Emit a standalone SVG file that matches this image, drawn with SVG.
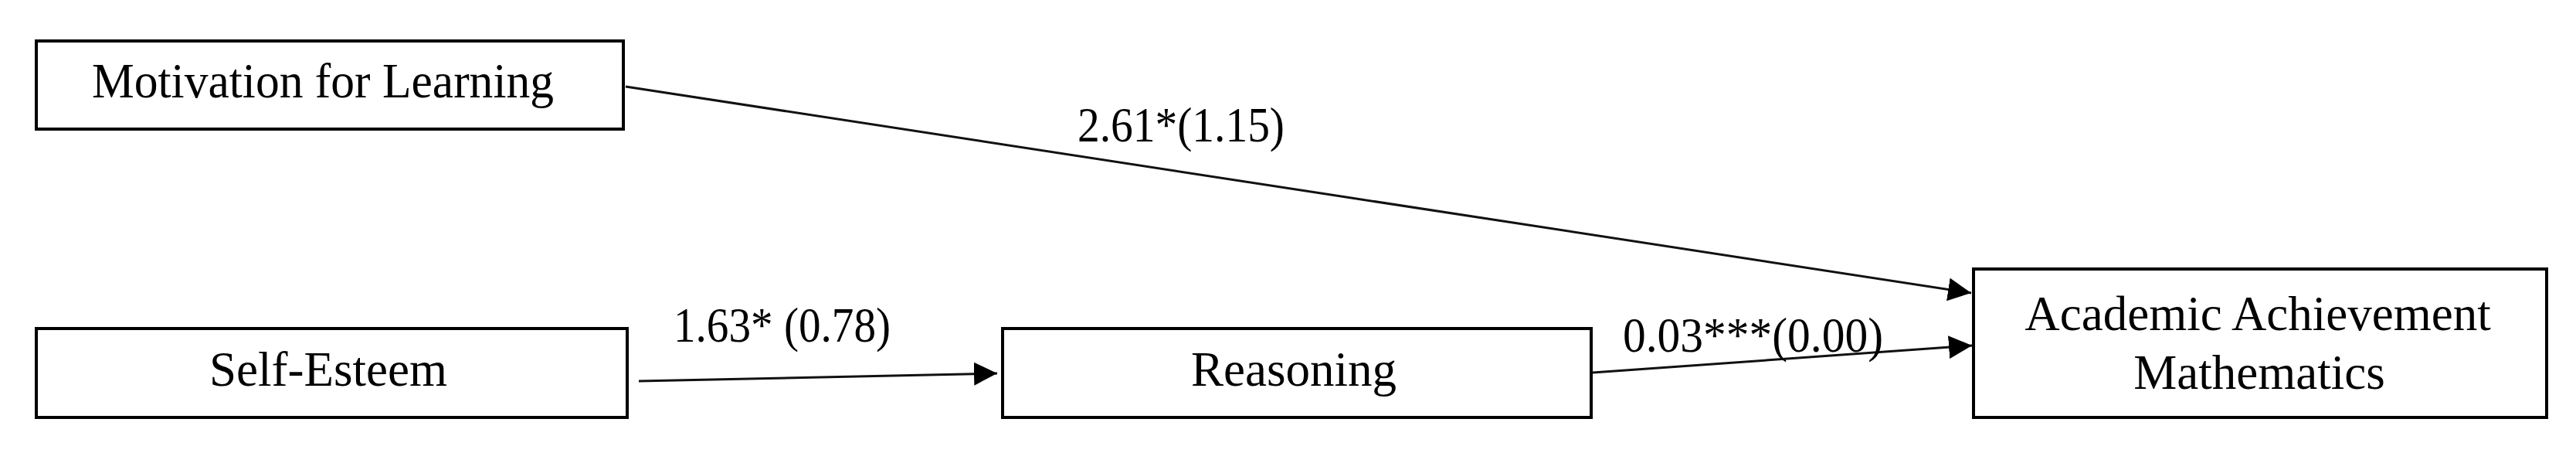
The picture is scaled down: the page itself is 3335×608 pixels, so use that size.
<svg xmlns="http://www.w3.org/2000/svg" width="3335" height="608" viewBox="0 0 3335 608">
<style>
.box{fill:#fff;stroke:#000;stroke-width:4}
.t{font-family:"Liberation Serif","Times New Roman",serif;font-size:63px;fill:#000;text-anchor:middle}
.lbl{font-family:"Liberation Serif","Times New Roman",serif;font-size:63px;fill:#000}
.edge{stroke:#111;stroke-width:3;fill:none;marker-end:url(#ah)}
</style>
<defs>
<marker id="ah" markerUnits="userSpaceOnUse" markerWidth="30" markerHeight="30" refX="30" refY="15" orient="auto" viewBox="0 0 30 30">
<path d="M0,0 L30,15 L0,30 Z" fill="#000"/>
</marker>
</defs>
<rect width="3335" height="608" fill="#fff"/>
<g id="connectors">
<line class="edge" x1="810" y1="112" x2="2552" y2="379"/>
<line class="edge" x1="827" y1="493" x2="1291" y2="483"/>
<line class="edge" x1="2062" y1="482" x2="2553" y2="447"/>
<text class="lbl" x="1395" y="183" textLength="268" lengthAdjust="spacingAndGlyphs">2.61*(1.15)</text>
<text class="lbl" x="872" y="442" textLength="281" lengthAdjust="spacingAndGlyphs">1.63* (0.78)</text>
<text class="lbl" x="2101" y="455" textLength="337" lengthAdjust="spacingAndGlyphs">0.03***(0.00)</text>
</g>
<g id="motivation">
<rect class="box" x="47" y="53" width="760" height="114"/>
<text class="t" x="418" y="126" textLength="598" lengthAdjust="spacingAndGlyphs">Motivation for Learning</text>
</g>
<g id="self-esteem">
<rect class="box" x="47" y="425" width="765" height="115"/>
<text class="t" x="425" y="499">Self-Esteem</text>
</g>
<g id="reasoning">
<rect class="box" x="1298" y="425" width="762" height="115"/>
<text class="t" x="1675" y="499">Reasoning</text>
</g>
<g id="academic">
<rect class="box" x="2555" y="348" width="742" height="192"/>
<text class="t" x="2923" y="427">Academic Achievement</text>
<text class="t" x="2925" y="503">Mathematics</text>
</g>
</svg>
